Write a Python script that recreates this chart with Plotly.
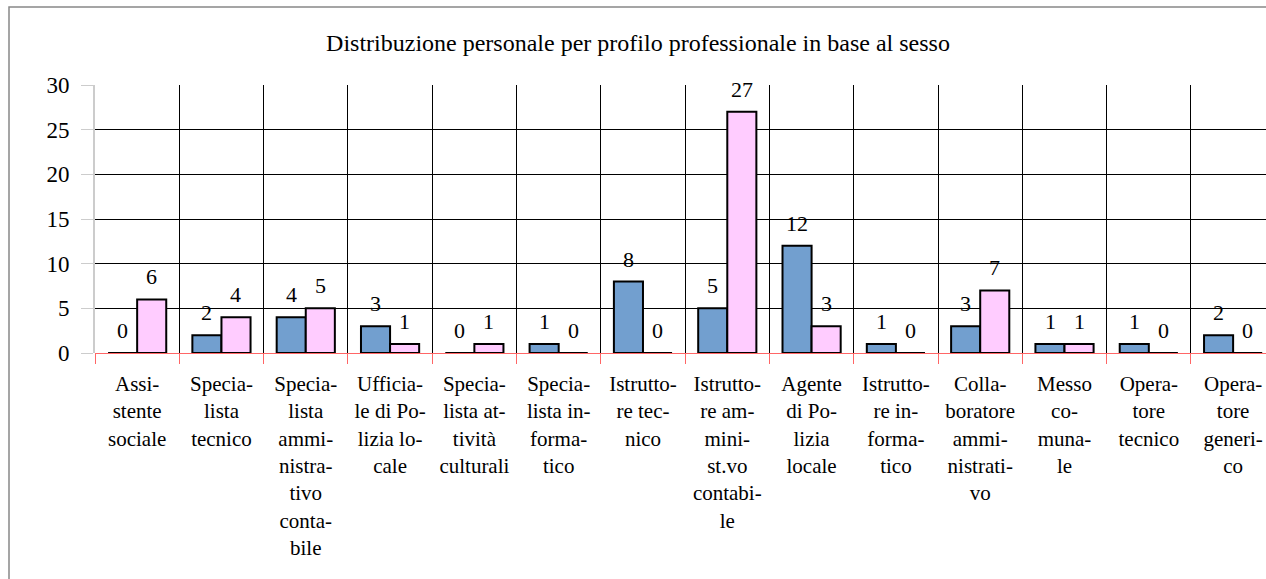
import plotly.graph_objects as go

categories = [
    "Assi-<br>stente<br>sociale",
    "Specia-<br>lista<br>tecnico",
    "Specia-<br>lista<br>ammi-<br>nistra-<br>tivo<br>conta-<br>bile",
    "Ufficia-<br>le di Po-<br>lizia lo-<br>cale",
    "Specia-<br>lista at-<br>tività<br>culturali",
    "Specia-<br>lista in-<br>forma-<br>tico",
    "Istrutto-<br>re tec-<br>nico",
    "Istrutto-<br>re am-<br>mini-<br>st.vo<br>contabi-<br>le",
    "Agente<br>di Po-<br>lizia<br>locale",
    "Istrutto-<br>re in-<br>forma-<br>tico",
    "Colla-<br>boratore<br>ammi-<br>nistrati-<br>vo",
    "Messo<br>co-<br>muna-<br>le",
    "Opera-<br>tore<br>tecnico",
    "Opera-<br>tore<br>generi-<br>co",
]
uomini = [0, 2, 4, 3, 0, 1, 8, 5, 12, 1, 3, 1, 1, 2]
donne = [6, 4, 5, 1, 1, 0, 0, 27, 3, 0, 7, 1, 0, 0]

FONT = "Liberation Serif"

fig = go.Figure()
fig.add_trace(go.Bar(
    x=categories, y=uomini, name="Uomini",
    marker=dict(color="#729fcf", line=dict(color="black", width=2)),
))
fig.add_trace(go.Bar(
    x=categories, y=donne, name="Donne",
    marker=dict(color="#ffccff", line=dict(color="black", width=2)),
))

# value labels a little above each bar, like the original
for values, shift in [(uomini, -14.5), (donne, 14.5)]:
    for cat, v in zip(categories, values):
        fig.add_annotation(
            x=cat, y=v, text=str(v), showarrow=False,
            xshift=shift, yshift=8, yanchor="bottom",
            font=dict(family=FONT, size=22, color="black"),
        )

fig.update_layout(
    width=1266, height=579,
    margin=dict(l=95, r=0, t=85, b=226),
    paper_bgcolor="white", plot_bgcolor="white",
    font=dict(family=FONT, size=21, color="black"),
    showlegend=False,
    barmode="group", bargap=0.31, bargroupgap=0,
    title=dict(
        text="Distribuzione personale per profilo professionale in base al sesso",
        x=638 / 1266, xanchor="center", y=1 - 43 / 579, yanchor="middle",
        font=dict(family=FONT, size=24, color="black"),
    ),
    xaxis=dict(
        range=[-0.5, 13.39],
        tickson="boundaries", ticks="outside", ticklen=10, tickcolor="#ff6666",
        showgrid=True, gridcolor="black", gridwidth=1,
        showline=False, ticklabelstandoff=16,
        tickfont=dict(family=FONT, size=21, color="black"),
        tickangle=0,
    ),
    yaxis=dict(
        range=[0, 30], dtick=5,
        showgrid=True, gridcolor="black", gridwidth=1,
        zeroline=True, zerolinecolor="#ff6666", zerolinewidth=1,
        showline=True, linecolor="#cccccc", linewidth=2,
        ticks="outside", ticklen=12, tickcolor="#cccccc",
        ticklabelstandoff=7,
        tickfont=dict(family=FONT, size=23, color="black"),
    ),
    shapes=[dict(
        type="rect", xref="paper", yref="paper",
        x0=(9 - 95) / 1171, x1=1.2, y0=-1.2, y1=(353 - 7) / 268,
        line=dict(color="#888888", width=1.5), layer="below",
    )],
)

fig.write_html(
    "out.html",
    config={"displayModeBar": False},
    post_script="document.body.style.margin='0';document.body.style.overflow='hidden';",
)
